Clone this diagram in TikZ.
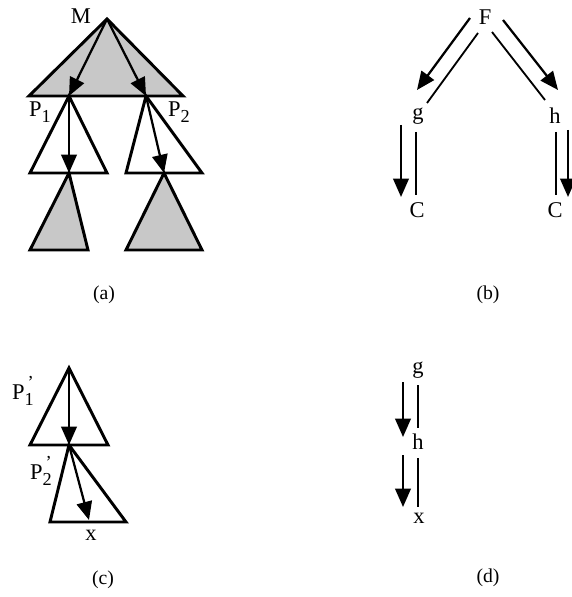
\documentclass[tikz,border=0pt]{standalone}
\usepackage{fontspec}
\setmainfont{Liberation Serif}
\usetikzlibrary{arrows.meta}
\definecolor{stipple}{RGB}{200,200,200}
\newcommand\lowix[1]{\raisebox{-0.6ex}{\fontsize{13}{14}\selectfont #1}}
\newcommand\primeix[1]{\raisebox{-0.6ex}{\fontsize{13}{14}\selectfont\shortstack[l]{\,'\\#1}}}

\begin{document}
\begin{tikzpicture}[x=0.025cm, y=-0.025cm,
  tri/.style={draw, line width=2.1pt, line join=miter},
  shaded/.style={tri, fill=stipple},
  ptr/.style={-{Triangle[length=13pt,width=11pt]}, line width=1.6pt},
  rel/.style={line width=1.3pt},
  lbl/.style={font=\fontsize{16}{18}\selectfont, inner sep=0pt},
  captext/.style={font=\fontsize{14}{16}\selectfont, inner sep=0pt}]
  \useasboundingbox (0,0) rectangle (571,597);

  \coordinate (Mtop) at (107,19);
  \coordinate (P1top) at (69,96);
  \coordinate (P2top) at (146,96);
  \coordinate (P1bot) at (69,173);
  \coordinate (P2bot) at (164,173);
  \draw[shaded] (Mtop) -- (29,96) -- (183,96) -- cycle;
  \draw[tri] (P1top) -- (30,173) -- (107,173) -- cycle;
  \draw[tri] (P2top) -- (126,173) -- (202,173) -- cycle;
  \draw[shaded] (P1bot) -- (30,250) -- (88,250) -- cycle;
  \draw[shaded] (P2bot) -- (126,250) -- (202,250) -- cycle;
  \draw[ptr] (Mtop) -- (P1top);
  \draw[ptr] (Mtop) -- (P2top);
  \draw[ptr] (P1top) -- (P1bot);
  \draw[ptr] (P2top) -- (P2bot);
  \node[lbl] (M) at (81,16) {M};
  \node[lbl] (P1) at (40,112) {P\lowix{1}};
  \node[lbl] (P2) at (179,112) {P\lowix{2}};
  \node[captext] (capa) at (104,295) {(a)};

  \node[lbl] (F) at (485,17) {F};
  \node[lbl] (g1) at (418,116) {g};
  \node[lbl] (h1) at (555,116) {h};
  \node[lbl] (C1) at (417,210) {C};
  \node[lbl] (C2) at (555,210) {C};
  \draw[ptr] ([shift={(-15,1)}]F.center) -- ([shift={(-1,-26)}]g1.center);
  \draw[rel] ([shift={(-7,16)}]F.center) -- ([shift={(9,-13)}]g1.center);
  \draw[ptr] ([shift={(18,3)}]F.center) -- ([shift={(3,-26)}]h1.center);
  \draw[rel] ([shift={(7,15)}]F.center) -- ([shift={(-10,-16)}]h1.center);
  \draw[ptr] ([shift={(-17,9)}]g1.center) -- ([shift={(-16,-13)}]C1.center);
  \draw[rel] ([shift={(-2,16)}]g1.center) -- ([shift={(-1,-15)}]C1.center);
  \draw[rel] ([shift={(1,16)}]h1.center) -- ([shift={(1,-15)}]C2.center);
  \draw[ptr] ([shift={(13,14)}]h1.center) -- ([shift={(13,-13)}]C2.center);
  \node[captext] (capb) at (488,295) {(b)};

  \coordinate (Q1top) at (69,368);
  \coordinate (Q2top) at (69,445);
  \coordinate (xend) at (89,520);
  \draw[tri] (Q1top) -- (30,445) -- (108,445) -- cycle;
  \draw[tri] (Q2top) -- (50,522) -- (126,522) -- cycle;
  \draw[ptr] (Q1top) -- (Q2top);
  \draw[ptr] (Q2top) -- (xend);
  \node[lbl] (Q1) at (23,391) {P\primeix{1}};
  \node[lbl] (Q2) at (41,471) {P\primeix{2}};
  \node[lbl] (x3) at (91,535) {x};
  \node[captext] (capc) at (103,580) {(c)};

  \node[lbl] (g4) at (418,370) {g};
  \node[lbl] (h4) at (418,442) {h};
  \node[lbl] (x4) at (419,518) {x};
  \draw[ptr] ([shift={(-15,12)}]g4.center) -- ([shift={(-15,-5)}]h4.center);
  \draw[rel] ([shift={(0,15)}]g4.center) -- ([shift={(0,-14)}]h4.center);
  \draw[ptr] ([shift={(-15,13)}]h4.center) -- ([shift={(-16,-11)}]x4.center);
  \draw[rel] ([shift={(0,16)}]h4.center) -- ([shift={(-1,-11)}]x4.center);
  \node[captext] (capd) at (488,578) {(d)};
\end{tikzpicture}
\end{document}
